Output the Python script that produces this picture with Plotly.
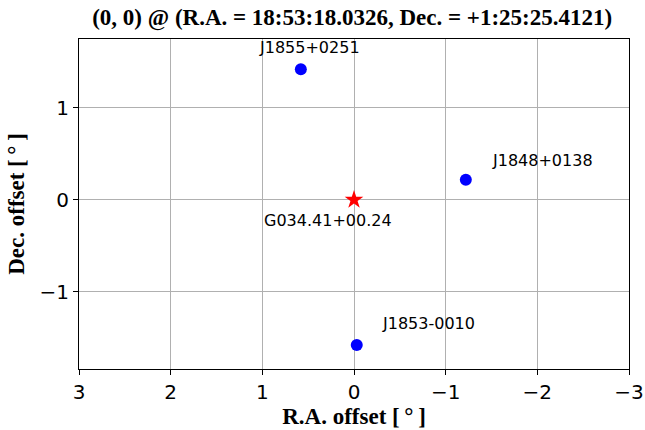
import plotly.graph_objects as go

names = ["J1855+0251", "J1848+0138", "J1853-0010"]
ra_off = [0.58, -1.22, -0.03]
dec_off = [1.42, 0.22, -1.58]
target_name = "G034.41+00.24"
target_ra = [0.0]
target_dec = [0.0]
xticks = [3, 2, 1, 0, -1, -2, -3]
yticks = [-1, 0, 1]

# label pixel offsets (xshift, yshift, xanchor)
label_style = [(9, 22, "center"), (24, 19, "left"), (23, 22, "left")]

fig = go.Figure()
fig.add_trace(go.Scatter(x=ra_off, y=dec_off, mode="markers",
                         marker=dict(color="blue", size=12), showlegend=False))
fig.add_trace(go.Scatter(x=target_ra, y=target_dec, mode="markers",
                         marker=dict(color="red", size=14, symbol="star"), showlegend=False))

for n, x, y, (xs, ys, xa) in zip(names, ra_off, dec_off, label_style):
    fig.add_annotation(x=x, y=y, text=n, showarrow=False, xshift=xs, yshift=ys,
                       xanchor=xa, yanchor="middle",
                       font=dict(family="DejaVu Sans", size=16, color="black"))
fig.add_annotation(x=target_ra[0], y=target_dec[0], text=target_name, showarrow=False,
                   xshift=-92, yshift=-21, xanchor="left", yanchor="middle",
                   font=dict(family="DejaVu Sans", size=16, color="black"))

tickfmt = lambda v: str(v).replace("-", "\u2212")
axis_common = dict(showline=True, linecolor="black", linewidth=1, mirror=True,
                   ticks="outside", ticklen=5, tickcolor="black", automargin=False,
                   showgrid=True, gridcolor="#b0b0b0", gridwidth=1, zeroline=False,
                   tickfont=dict(family="DejaVu Sans", size=20, color="black"))

fig.update_layout(
    width=645, height=430,
    margin=dict(l=79, r=16, t=39, b=61),
    paper_bgcolor="white", plot_bgcolor="white",
    title=dict(text="<b>(0, 0) @ (R.A. = 18:53:18.0326, Dec. = +1:25:25.4121)</b>",
               x=0.546, xanchor="center", y=0.96, yanchor="middle",
               font=dict(family="Liberation Serif", size=23, color="black"),
               automargin=False),
    xaxis=dict(range=[3, -3], tickvals=xticks, ticktext=[tickfmt(v) for v in xticks],
               title=dict(text="<b>R.A. offset [\u2009\u00b0\u2009]</b>", standoff=4,
                          font=dict(family="Liberation Serif", size=23, color="black")),
               **axis_common),
    yaxis=dict(range=[-1.84, 1.75], tickvals=yticks, ticktext=[tickfmt(v) for v in yticks],
               title=dict(text="<b>Dec. offset [\u2009\u00b0\u2009]</b>", standoff=8,
                          font=dict(family="Liberation Serif", size=23, color="black")),
               **axis_common),
)

fig.write_html("out.html")
